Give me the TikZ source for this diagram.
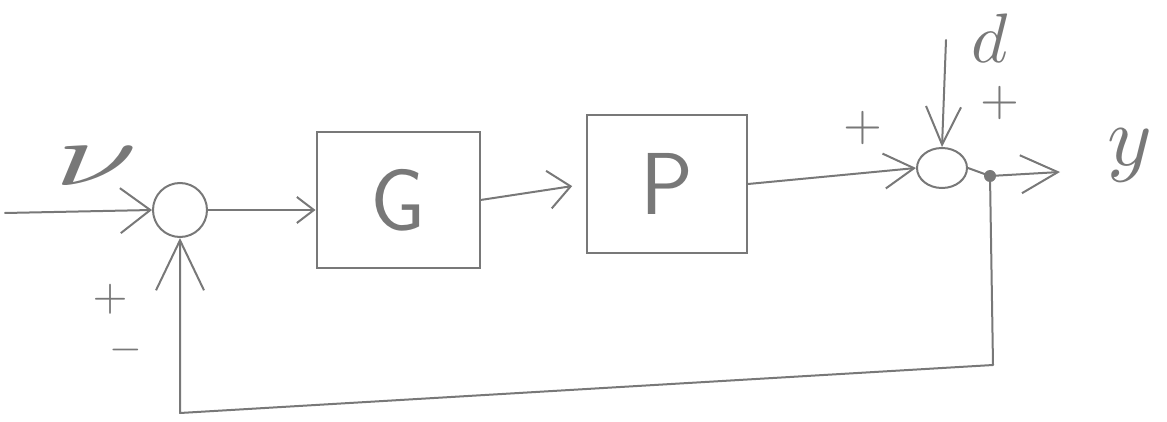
\documentclass[tikz,border=0pt]{standalone}
\usepackage{fontspec}
\usetikzlibrary{arrows.meta,shapes.geometric}
\definecolor{pencil}{RGB}{120,120,120}
\begin{document}
\begin{tikzpicture}[x=1pt,y=-1pt,
  line/.style={draw=pencil, line width=2pt, line cap=round, line join=round},
  hand/.style 2 args={-{Straight Barb[length=#1pt,width=#2pt]}},
  block/.style={draw=pencil, line width=2pt, text=pencil, inner sep=0pt,
    font=\sffamily\fontsize{88}{88}\selectfont},
  sumc/.style={circle, draw=pencil, line width=2pt, inner sep=0pt},
  sume/.style={ellipse, draw=pencil, line width=2pt, inner sep=0pt},
  lab/.style={text=pencil, inner sep=0pt}]
\useasboundingbox (0,0) rectangle (1167,422);
% nodes
\node[sumc, minimum size=54pt] (s1) at (180,210) {};
\node[block, minimum width=163pt, minimum height=135pt] (G) at (398,200) {G};
\node[block, minimum width=160pt, minimum height=137pt] (P) at (667,184) {P};
\node[sume, minimum width=50pt, minimum height=40pt] (s2) at (942,168) {};
\coordinate (in) at (5,213);
\coordinate (br) at (990,176);
\coordinate (out) at (1060,172);
\coordinate (dtop) at (946,40);
\coordinate (fb1) at (993,365);
\coordinate (fb2) at (180,413);
% labels
\node[lab, xscale=15, yscale=9] (nu) at (96,166) {$\nu$};
\node[lab, scale=7] (dl) at (990,38) {$d$};
\node[lab, scale=8.5] (yl) at (1130,155) {$y$};
\node[lab, scale=4.5] (p1) at (110,299) {$+$};
\node[lab, scale=4.2] (m1) at (126,350) {$-$};
\node[lab, scale=5] (p2) at (863,128) {$+$};
\node[lab, scale=5] (p3) at (1000,103) {$+$};
% connectors
\draw[line, hand={30}{45}] (in) -- (s1.west);
\draw[line, hand={17}{26}] (s1.east) -- (s1 -| G.west);
\draw[line, hand={22}{38}, shorten >=14pt] (G.east) -- (P.west);
\draw[line, hand={30}{35}] (P.east) -- (s2.west);
\draw[line] (s2.east) -- (br);
\draw[line, hand={37}{38}] (br) -- (out);
\draw[line, hand={38}{35}] (dtop) -- (s2.north);
\draw[line, hand={50}{48}] (br) -- (fb1) -- (fb2) -- (s1.south);
\fill[pencil] (br) circle (6);
\end{tikzpicture}
\end{document}
